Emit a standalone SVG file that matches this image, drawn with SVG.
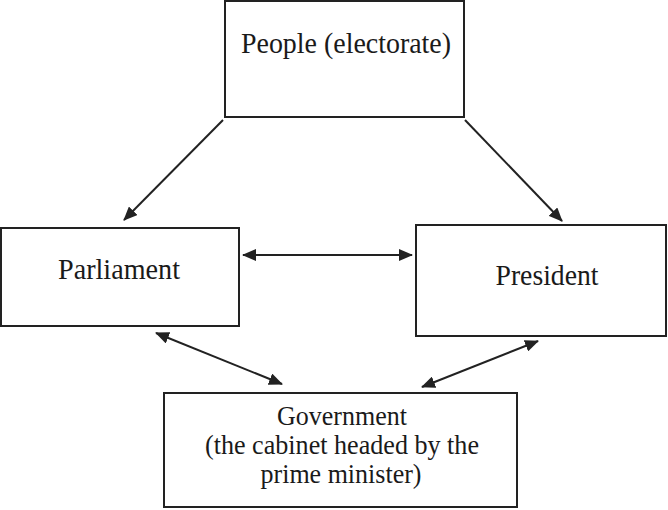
<svg xmlns="http://www.w3.org/2000/svg" width="668" height="510" viewBox="0 0 668 510">
<style>
.box{fill:#fff;stroke:#222;stroke-width:2}
.lbl{font-family:"Liberation Serif","Times New Roman",serif;font-size:30px;fill:#1a1a1a}
.sm{font-size:28px}
.conn{stroke:#222;stroke-width:2;fill:none}
</style>
<defs>
<marker id="ah" markerUnits="userSpaceOnUse" markerWidth="14" markerHeight="12" refX="13" refY="6" orient="auto-start-reverse">
<path d="M0,0 L14,6 L0,12 Z" fill="#222"/>
</marker>
</defs>
<rect width="668" height="510" fill="#fff"/>
<g id="people">
<rect class="box" x="225" y="1" width="239" height="116"/>
<text class="lbl" x="346" y="53" text-anchor="middle" textLength="210" lengthAdjust="spacingAndGlyphs">People (electorate)</text>
</g>
<g id="parliament">
<rect class="box" x="1" y="228" width="238" height="98"/>
<text class="lbl" x="119" y="279" text-anchor="middle" textLength="122" lengthAdjust="spacingAndGlyphs">Parliament</text>
</g>
<g id="president">
<rect class="box" x="416" y="225" width="250" height="111"/>
<text class="lbl" x="547" y="285" text-anchor="middle" textLength="103" lengthAdjust="spacingAndGlyphs">President</text>
</g>
<g id="government">
<rect class="box" x="164" y="393" width="353" height="114"/>
<text class="lbl sm" x="342" y="425" text-anchor="middle" textLength="130" lengthAdjust="spacingAndGlyphs">Government</text>
<text class="lbl sm" x="342" y="454" text-anchor="middle" textLength="274" lengthAdjust="spacingAndGlyphs">(the cabinet headed by the</text>
<text class="lbl sm" x="341" y="483" text-anchor="middle" textLength="161" lengthAdjust="spacingAndGlyphs">prime minister)</text>
</g>
<g id="connectors">
<line class="conn" x1="223" y1="120" x2="124" y2="220" marker-end="url(#ah)"/>
<line class="conn" x1="465" y1="120" x2="562" y2="221" marker-end="url(#ah)"/>
<line class="conn" x1="243" y1="255" x2="412" y2="255" marker-start="url(#ah)" marker-end="url(#ah)"/>
<line class="conn" x1="156" y1="333" x2="282" y2="384" marker-start="url(#ah)" marker-end="url(#ah)"/>
<line class="conn" x1="538" y1="341" x2="422" y2="387" marker-start="url(#ah)" marker-end="url(#ah)"/>
</g>
</svg>
